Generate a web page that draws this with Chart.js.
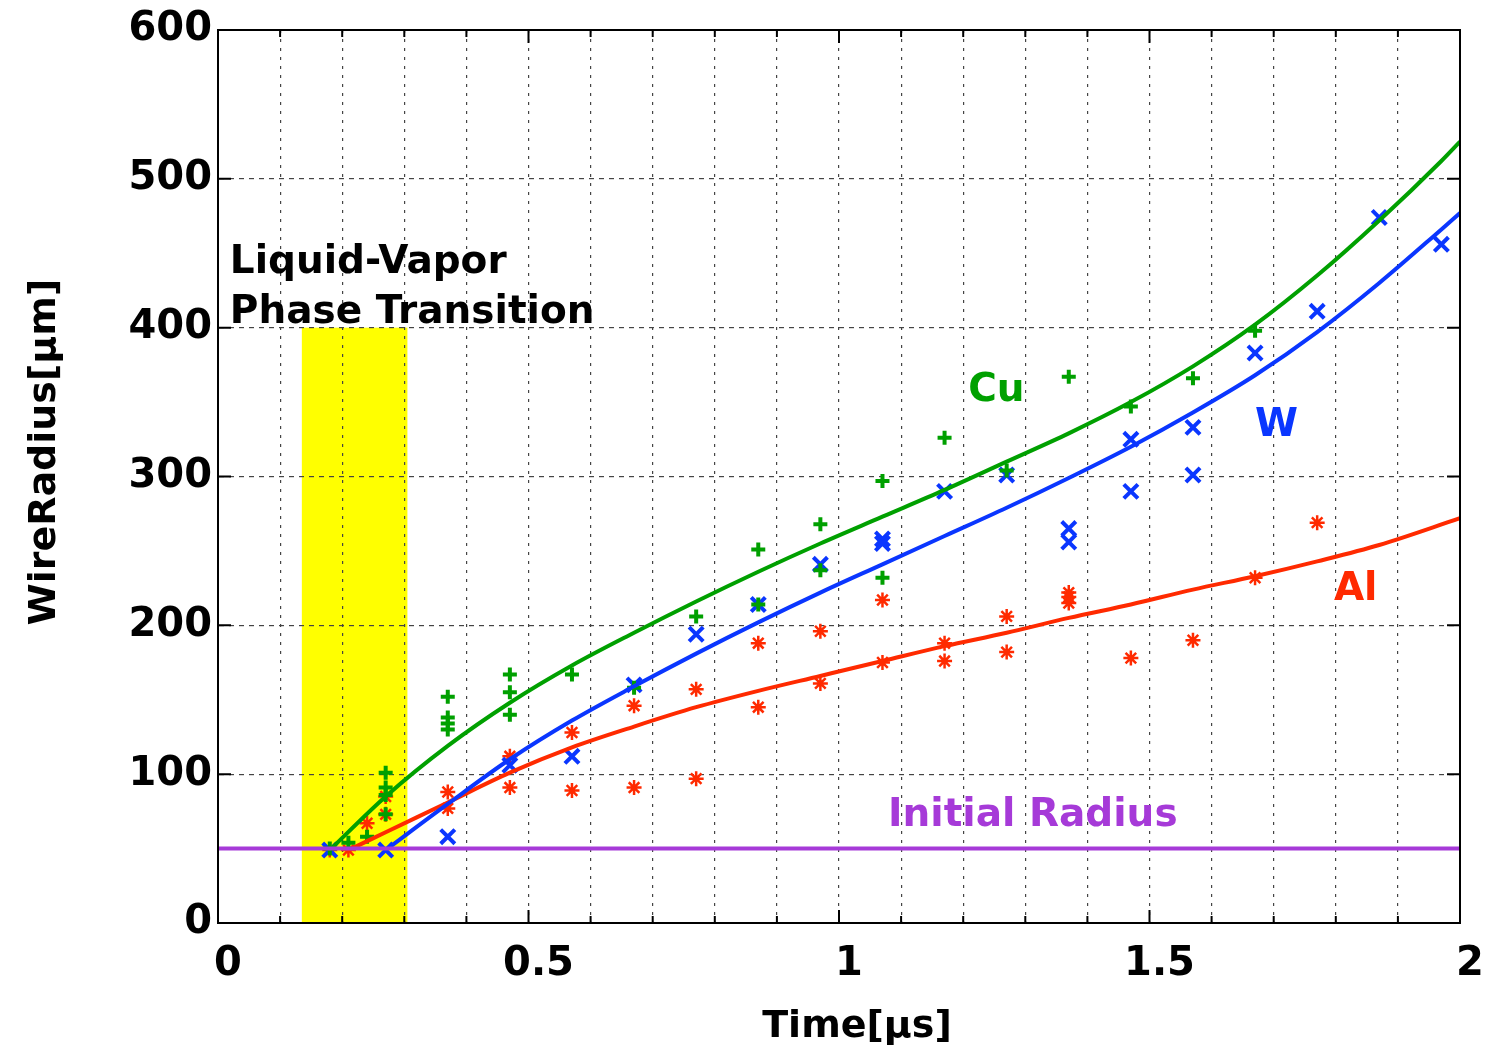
<!DOCTYPE html>
<html>
<head>
<meta charset="utf-8">
<title>Wire radius vs time</title>
<script src="https://cdn.jsdelivr.net/npm/chart.js@4/dist/chart.umd.min.js"></script>
<style>
  html, body { margin: 0; padding: 0; background: #fff; }
  #wrap { width: 1501px; height: 1051px; position: relative; }
</style>
</head>
<body>
<div id="wrap"><canvas id="radiusChart"></canvas></div>
<script>
// measured wire radius [um] vs time [us]
const cuTime   = [0.18, 0.21, 0.24, 0.27, 0.27, 0.27, 0.27, 0.37, 0.37, 0.37, 0.37, 0.47, 0.47, 0.47, 0.57, 0.67, 0.77, 0.87, 0.87, 0.97, 0.97, 1.07, 1.07, 1.17, 1.27, 1.37, 1.47, 1.57, 1.67];
const cuRadius = [50, 54, 58, 101, 91, 86, 73, 152, 138, 134, 130, 167, 155, 140, 167, 158, 206, 251, 214, 268, 237, 297, 232, 326, 304, 367, 347, 366, 398];

const wTime   = [0.18, 0.27, 0.37, 0.47, 0.57, 0.67, 0.77, 0.87, 0.97, 1.07, 1.07, 1.17, 1.27, 1.37, 1.37, 1.47, 1.47, 1.57, 1.57, 1.67, 1.77, 1.87, 1.97];
const wRadius = [49, 49, 58, 106, 112, 160, 194, 214, 241, 258, 255, 290, 301, 265, 256, 325, 290, 333, 301, 383, 411, 474, 456];

const alTime   = [0.18, 0.21, 0.24, 0.27, 0.27, 0.37, 0.37, 0.47, 0.47, 0.57, 0.57, 0.67, 0.67, 0.77, 0.77, 0.87, 0.87, 0.97, 0.97, 1.07, 1.07, 1.17, 1.17, 1.27, 1.27, 1.37, 1.37, 1.37, 1.47, 1.57, 1.67, 1.77];
const alRadius = [49, 49, 67, 85, 73, 88, 77, 112, 91, 128, 89, 146, 91, 157, 97, 188, 145, 196, 161, 217, 175, 188, 176, 206, 182, 222, 219, 215, 178, 190, 232, 269];

// fitted expansion curves
const cuFitTime = [0.18, 0.27, 0.37, 0.47, 0.57, 0.67, 0.77, 0.87, 0.97, 1.07, 1.17, 1.27, 1.37, 1.47, 1.57, 1.67, 1.77, 1.87, 1.97, 2.0];
const cuFit     = [49, 85, 119, 148, 173, 195, 216, 236, 255, 273, 291, 310, 329, 350, 374, 402, 435, 472, 512, 525];

const wFitTime = [0.27, 0.37, 0.47, 0.57, 0.67, 0.77, 0.87, 0.97, 1.07, 1.17, 1.27, 1.37, 1.47, 1.57, 1.67, 1.77, 1.87, 1.97, 2.0];
const wFit     = [49, 80, 110, 136, 159, 181, 202, 222, 241, 260, 279, 299, 320, 343, 368, 397, 430, 466, 477];

const alFitTime = [0.21, 0.27, 0.37, 0.47, 0.57, 0.67, 0.77, 0.87, 0.97, 1.07, 1.17, 1.27, 1.37, 1.47, 1.57, 1.67, 1.77, 1.87, 2.0];
const alFit     = [49, 61, 81, 101, 118, 132, 145, 156, 166, 176, 186, 195, 205, 214, 224, 233, 243, 254, 272];

const initialRadius = 50;
const phaseBand = [0.135, 0.305];   // liquid-vapor transition window [us]
const phaseTop = 400;

const xTicks = [0, 0.5, 1, 1.5, 2];

const GREEN = '#00a000', BLUE = '#0a36ff', RED = '#ff2a00', PURPLE = '#a63ad8';
const FONT = '"DejaVu Sans", sans-serif';

const pairs = (xs, ys) => xs.map((x, i) => ({ x: x, y: ys[i] }));

const notes = [
  { text: 'Cu', x: 1.208, y: 351, color: GREEN },
  { text: 'W', x: 1.670, y: 327, color: BLUE },
  { text: 'Al', x: 1.797, y: 217, color: RED },
  { text: 'Initial Radius', x: 1.079, y: 65, color: PURPLE },
  { text: 'Liquid-Vapor', x: 0.019, y: 437, color: '#000' },
  { text: 'Phase Transition', x: 0.019, y: 403, color: '#000' }
];

const decor = {
  id: 'decor',
  beforeDraw(chart) {
    const { ctx, scales: { x, y } } = chart;
    const x0 = x.getPixelForValue(phaseBand[0]);
    const x1 = x.getPixelForValue(phaseBand[1]);
    const y0 = y.getPixelForValue(phaseTop);
    const y1 = y.getPixelForValue(0);
    ctx.save();
    ctx.fillStyle = '#ffff00';
    ctx.fillRect(x0, y0, x1 - x0, y1 - y0);
    ctx.restore();
  },
  afterDraw(chart) {
    const { ctx, chartArea: a, scales: { x, y } } = chart;
    ctx.save();
    ctx.strokeStyle = '#000';
    ctx.lineWidth = 2;
    ctx.strokeRect(a.left, a.top, a.right - a.left, a.bottom - a.top);

    // inward ticks on all four sides
    ctx.beginPath();
    x.ticks.forEach(t => {
      const px = x.getPixelForValue(t.value);
      const major = Math.abs(t.value * 2 - Math.round(t.value * 2)) < 1e-6;
      const len = major ? 13 : 7;
      ctx.moveTo(px, a.bottom); ctx.lineTo(px, a.bottom - len);
      ctx.moveTo(px, a.top); ctx.lineTo(px, a.top + len);
    });
    y.ticks.forEach(t => {
      const py = y.getPixelForValue(t.value);
      ctx.moveTo(a.left, py); ctx.lineTo(a.left + 13, py);
      ctx.moveTo(a.right, py); ctx.lineTo(a.right - 13, py);
    });
    ctx.stroke();

    // text annotations
    ctx.font = 'bold 39px ' + FONT;
    ctx.textBaseline = 'alphabetic';
    ctx.textAlign = 'left';
    notes.forEach(n => {
      ctx.fillStyle = n.color;
      ctx.fillText(n.text, x.getPixelForValue(n.x), y.getPixelForValue(n.y));
    });

    // axis titles
    ctx.fillStyle = '#000';
    ctx.font = 'bold 38px ' + FONT;
    ctx.textAlign = 'center';
    ctx.textBaseline = 'middle';
    ctx.fillText('Time[\u03bcs]', (a.left + a.right) / 2 + 18, 1027);
    ctx.translate(45, 452);
    ctx.rotate(-Math.PI / 2);
    ctx.fillText('WireRadius[\u03bcm]', 0, 0);
    ctx.restore();
  }
};

const markerSet = (label, xs, ys, color, style, radius, width) => ({
  label: label,
  data: pairs(xs, ys),
  pointStyle: style,
  pointRadius: radius,
  pointBorderWidth: width,
  borderColor: color,
  backgroundColor: color,
  showLine: false,
  order: 2
});

const fitLine = (label, xs, ys, color) => ({
  label: label,
  data: pairs(xs, ys),
  borderColor: color,
  borderWidth: 4,
  pointRadius: 0,
  showLine: true,
  cubicInterpolationMode: 'monotone',
  order: 1
});

new Chart(document.getElementById('radiusChart'), {
  type: 'scatter',
  data: {
    datasets: [
      markerSet('Cu data', cuTime, cuRadius, GREEN, 'cross', 7, 4),
      markerSet('W data', wTime, wRadius, BLUE, 'crossRot', 10, 4),
      markerSet('Al data', alTime, alRadius, RED, 'star', 7.5, 2.5),
      fitLine('Cu fit', cuFitTime, cuFit, GREEN),
      fitLine('W fit', wFitTime, wFit, BLUE),
      fitLine('Al fit', alFitTime, alFit, RED),
      {
        label: 'Initial Radius',
        data: pairs([0, 2], [initialRadius, initialRadius]),
        borderColor: PURPLE,
        borderWidth: 4,
        pointRadius: 0,
        showLine: true,
        order: 0
      }
    ]
  },
  options: {
    responsive: true,
    maintainAspectRatio: false,
    animation: false,
    events: [],
    layout: { padding: { top: 30, right: 41, left: 0, bottom: 0 } },
    plugins: { legend: { display: false }, tooltip: { enabled: false } },
    scales: {
      x: {
        type: 'linear',
        min: 0, max: 2,
        afterFit: s => { s.height = 128; },
        afterBuildTicks: s => {
          const ticks = [];
          for (let i = 0; i <= 20; i++) ticks.push({ value: i / 10 });
          s.ticks = ticks;
        },
        ticks: {
          autoSkip: false,
          maxRotation: 0,
          padding: 18,
          labelOffset: 10,
          color: '#000',
          font: { family: FONT, size: 40, weight: 'bold' },
          callback: v => {
            const hit = xTicks.find(t => Math.abs(t - v) < 1e-6);
            return hit === undefined ? '' : String(hit);
          }
        },
        grid: { color: '#444', lineWidth: 1.2, drawTicks: false },
        border: { display: true, color: '#000', width: 2, dash: [3, 6] }
      },
      y: {
        min: 0, max: 600,
        afterFit: s => { s.width = 218; },
        ticks: {
          stepSize: 100,
          padding: 6,
          color: '#000',
          font: { family: FONT, size: 40, weight: 'bold' }
        },
        grid: { color: '#444', lineWidth: 1.2, drawTicks: false },
        border: { display: true, color: '#000', width: 2, dash: [5, 5] }
      }
    }
  },
  plugins: [decor]
});
</script>
</body>
</html>
